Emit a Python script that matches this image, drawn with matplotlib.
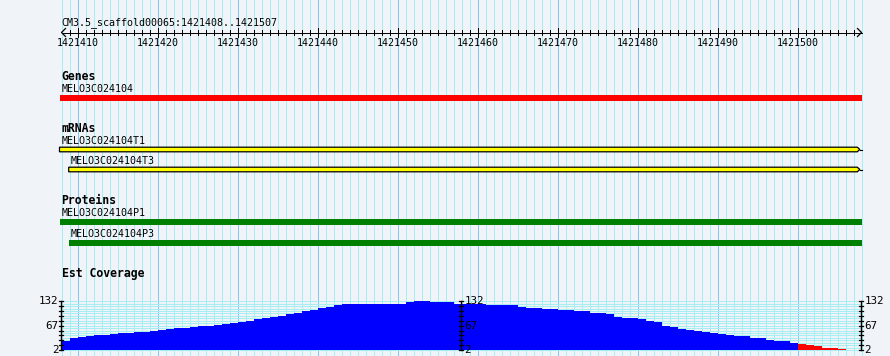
import numpy as np
import matplotlib
matplotlib.use('Agg')
import matplotlib.pyplot as plt
from matplotlib.patches import Polygon

# region shown
ref_name = 'CM3.5_scaffold00065'
view_start = 1421408
view_end = 1421507
ruler_ticks = list(range(1421410, 1421501, 10))

# features (start, end in bp)
gene_names = ['MELO3C024104']
gene_starts = [1421407.75]
gene_ends = [1421508.1]

mrna_names = ['MELO3C024104T1', 'MELO3C024104T3']
mrna_starts = [1421407.75, 1421408.9]
mrna_ends = [1421508.1, 1421508.1]

protein_names = ['MELO3C024104P1', 'MELO3C024104P3']
protein_starts = [1421407.75, 1421408.9]
protein_ends = [1421508.1, 1421508.1]

# est coverage, one value per bp from view_start
coverage = [25, 33, 36, 39, 41, 41, 44, 47, 47, 50,
            50, 53, 56, 58, 61, 61, 63, 66, 66, 69,
            72, 75, 78, 80, 86, 88, 91, 94, 98, 102,
            105, 108, 114, 118, 121, 124, 126, 124, 124, 126,
            126, 126, 126, 129, 132, 132, 131, 131, 129, 124,
            126, 126, 124, 123, 121, 121, 121, 118, 115, 115,
            112, 112, 110, 110, 107, 105, 102, 102, 97, 91,
            88, 88, 86, 80, 77, 67, 64, 58, 56, 53,
            50, 47, 45, 42, 39, 39, 34, 34, 29, 26,
            26, 20, 17, 15, 12, 7, 7, 5, 2, 2]
cov_min, cov_max = 2, 132
low_cut = 19

bg = '#f0f4f8'
grid_minor = '#a6eef2'
grid_major = '#80c8f0'
mono = 'DejaVu Sans Mono'
PX = 1 / 8.0   # one pixel in bp
W, H = 890, 356
LW = 0.72      # one pixel

fig = plt.figure(figsize=(W / 100, H / 100), dpi=100)
fig.patch.set_facecolor(bg)

ax = fig.add_axes([0, 0, 1, 1])
x0 = view_start - 61.5 * PX
x1 = x0 + W * PX
ax.set_xlim(x0, x1)
ax.set_ylim(H, 0)
ax.axis('off')

# vertical grid
for p in range(view_start, view_end + 2):
    c = grid_major if p % 10 == 0 else grid_minor
    ax.axvline(p, color=c, lw=LW, zorder=0, antialiased=False)

# ruler
ry = 32.5
line_kw = dict(color='black', lw=LW, antialiased=False)
ax.plot([view_start, view_end + 1], [ry, ry], **line_kw)
ax.plot([view_start + 4 * PX, view_start, view_start + 4 * PX], [ry - 4, ry, ry + 4], color='black', lw=0.9)
ax.plot([view_end + 1 - 4 * PX, view_end + 1, view_end + 1 - 4 * PX], [ry - 4, ry, ry + 4], color='black', lw=0.9)
for p in range(view_start + 1, view_end + 1):
    if p % 10 == 0:
        ax.plot([p, p], [ry - 4.5, ry + 4], **line_kw)
    else:
        ax.plot([p, p], [ry - 2.5, ry + 2.5], **line_kw)
for t in ruler_ticks:
    ax.text(t, 46, str(t), ha='center', va='baseline', fontsize=7.2, family=mono)
ax.text(view_start, 25, '%s:%d..%d' % (ref_name, view_start, view_end),
        ha='left', va='baseline', fontsize=7.2, family=mono)

title_kw = dict(ha='left', va='baseline', fontsize=8.3, family=mono, fontweight='bold')
name_kw = dict(ha='left', va='baseline', fontsize=7.2, family=mono)

# Genes
ax.text(view_start, 80, 'Genes', **title_kw)
ax.text(view_start, 91.5, gene_names[0], **name_kw)
ax.barh(98, gene_ends[0] - gene_starts[0], left=gene_starts[0], height=6, color='#ff0000', lw=0)

# mRNAs
ax.text(view_start, 132.5, 'mRNAs', **title_kw)
for name, s, e, ty, cy in zip(mrna_names, mrna_starts, mrna_ends, [144, 164], [149.5, 169.5]):
    ax.text(s + 2 * PX, ty, name, **name_kw)
    hh = 2.3
    body = e - 5 * PX
    tip = e - 2.5 * PX
    poly = Polygon([(s, cy - hh), (body, cy - hh), (tip, cy), (body, cy + hh), (s, cy + hh)],
                   closed=True, facecolor='#ffff00', edgecolor='black', lw=0.9, zorder=3)
    ax.add_patch(poly)
    ax.plot([tip, e], [cy, cy], color='black', lw=0.8, zorder=3)

# Proteins
ax.text(view_start, 203.5, 'Proteins', **title_kw)
for name, s, e, ty, cy in zip(protein_names, protein_starts, protein_ends, [216, 237], [222, 243]):
    ax.text(s + 2 * PX, ty, name, **name_kw)
    ax.barh(cy, e - s, left=s, height=6, color='#008000', lw=0)

# Est Coverage
ax.text(view_start, 277.5, 'Est Coverage', **title_kw)

top_px, bot_px = 301.3, 350.0
cax = fig.add_axes([0, 1 - bot_px / H, 1, (bot_px - top_px) / H])
cax.set_xlim(x0, x1)
cax.set_ylim(cov_min, cov_max)
cax.axis('off')

for v in np.linspace(cov_min, cov_max, 21):
    cax.plot([view_start - PX, view_end + 1], [v, v], color=grid_minor, lw=LW, zorder=0,
             clip_on=False, antialiased=False)

pos = np.arange(view_start, view_end + 1)
vals = np.array(coverage, dtype=float)
cols = ['#ff0000' if v < low_cut else '#0000ff' for v in vals]
cax.bar(pos, vals, width=1, align='edge', color=cols, lw=0, zorder=2)

tick_vals = np.linspace(cov_min, cov_max, 11)
lab_vals = [cov_max, (cov_max + cov_min) / 2, cov_min]
axis_pos = [(view_start - PX, 'left'), (view_start + 50 - PX, 'right'), (view_end + 1 - PX, 'right')]
for axx, side in axis_pos:
    cax.plot([axx, axx], [cov_min, cov_max], color='black', lw=1.0, zorder=4, clip_on=False)
    for tv in tick_vals:
        cax.plot([axx - 2 * PX, axx + 2 * PX], [tv, tv], color='black', lw=0.9, zorder=4, clip_on=False)
    for lv in lab_vals:
        if side == 'left':
            cax.text(axx - 2 * PX, lv, '%d' % lv, ha='right', va='center', fontsize=7.8, family=mono, zorder=5)
        else:
            cax.text(axx + 4 * PX, lv, '%d' % lv, ha='left', va='center', fontsize=7.8, family=mono, zorder=5)

fig.savefig('out.png', dpi=100, facecolor=bg)
